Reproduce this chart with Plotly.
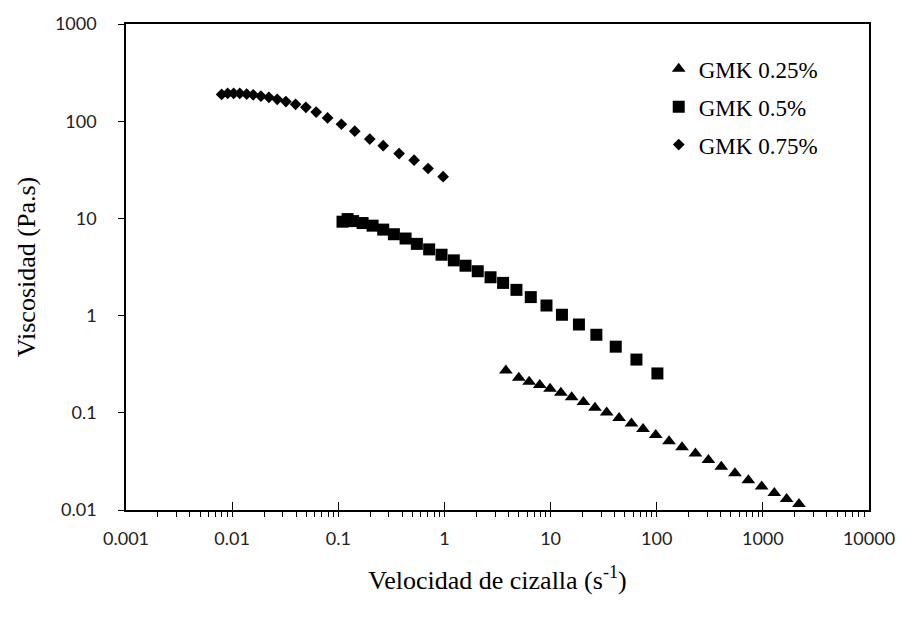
import plotly.graph_objects as go

# Shear rate (1/s) and viscosity (Pa.s) for each GMK concentration
rate_025 = [3.79, 5.02, 6.28, 7.91, 9.89, 12.5, 15.8, 20.4, 26.2, 33.8, 44.2, 57.8, 74.3,
            97.9, 130.6, 173.3, 231.6, 307, 406, 546, 730, 974, 1282, 1675, 2188]
visc_025 = [0.272, 0.229, 0.2085, 0.193, 0.177, 0.161, 0.1445, 0.1295, 0.113, 0.1007,
            0.0883, 0.0778, 0.0682, 0.0592, 0.0509, 0.0442, 0.0382, 0.0326, 0.0279,
            0.0239, 0.0202, 0.0175, 0.0150, 0.0130, 0.0115]

rate_05 = [0.1096, 0.1224, 0.138, 0.1694, 0.2104, 0.265, 0.334, 0.4305, 0.550, 0.718,
           0.939, 1.226, 1.58, 2.06, 2.72, 3.57, 4.77, 6.51, 9.15, 12.8, 18.5, 27.0,
           41.1, 64.4, 101.5]
visc_05 = [9.25, 9.84, 9.38, 8.96, 8.42, 7.67, 6.87, 6.21, 5.47, 4.80, 4.23, 3.70, 3.26,
           2.86, 2.48, 2.17, 1.84, 1.55, 1.27, 1.02, 0.81, 0.635, 0.479, 0.353, 0.254]

rate_075 = [0.00796, 0.00907, 0.01033, 0.0118, 0.0137, 0.0158, 0.01867, 0.0222, 0.0266,
            0.0321, 0.0396, 0.0495, 0.0619, 0.0793, 0.107, 0.143, 0.198, 0.265, 0.374,
            0.518, 0.702, 0.972]
visc_075 = [188.6, 193, 193, 193, 190, 187, 181, 176, 168, 159, 149, 139, 124, 108, 93,
            79, 65.5, 56, 46.4, 39.7, 32.6, 26.9]

x_ticks = [0.001, 0.01, 0.1, 1, 10, 100, 1000, 10000]
x_labels = ["0.001", "0.01", "0.1", "1", "10", "100", "1000", "10000"]
y_ticks = [0.01, 0.1, 1, 10, 100, 1000]
y_labels = ["0.01", "0.1", "1", "10", "100", "1000"]

series = [
    ("GMK 0.25%", rate_025, visc_025, "triangle-up", 12),
    ("GMK 0.5%", rate_05, visc_05, "square", 12),
    ("GMK 0.75%", rate_075, visc_075, "diamond", 9),
]

fig = go.Figure()
for i, (name, x, y, sym, size) in enumerate(series):
    fig.add_trace(go.Scatter(
        x=x, y=y, mode="markers", name=name, legendgroup=f"g{i}",
        marker=dict(symbol=sym, size=size, color="black", line=dict(width=0)),
    ))

tick_font = dict(family="Lato", size=18, color="#222")
serif = "Liberation Serif"

fig.update_layout(
    width=908, height=620,
    margin=dict(l=126, r=39, t=20, b=110),
    paper_bgcolor="white", plot_bgcolor="white",
    showlegend=True,
    legend=dict(
        x=0.717, y=0.952, xanchor="left", yanchor="top",
        font=dict(family=serif, size=23, color="black"),
        bgcolor="rgba(0,0,0,0)", itemwidth=30, tracegroupgap=5,
    ),
    xaxis=dict(
        type="log", range=[-3, 4],
        showgrid=False, zeroline=False,
        showline=True, linecolor="black", linewidth=1.5, mirror=True,
        ticks="inside", ticklen=8, tickcolor="black", tickwidth=1,
        tickvals=x_ticks, ticktext=x_labels,
        tickfont=tick_font, ticklabelstandoff=12,
        minor=dict(ticks="outside", ticklen=5, tickcolor="black", tickwidth=1,
                   dtick="D1", showgrid=False),
        title=dict(text="Velocidad de cizalla (s<sup>-1</sup>)",
                   font=dict(family=serif, size=26, color="black"), standoff=22),
    ),
    yaxis=dict(
        type="log", range=[-2, 3],
        showgrid=False, zeroline=False,
        showline=True, linecolor="black", linewidth=1.5, mirror=True,
        ticks="outside", ticklen=6, tickcolor="black", tickwidth=1,
        tickvals=y_ticks, ticktext=y_labels,
        tickfont=tick_font, ticklabelstandoff=18,
        title=dict(text="Viscosidad (Pa.s)",
                   font=dict(family=serif, size=26, color="black"), standoff=12),
    ),
)

fig.write_html("out.html")
